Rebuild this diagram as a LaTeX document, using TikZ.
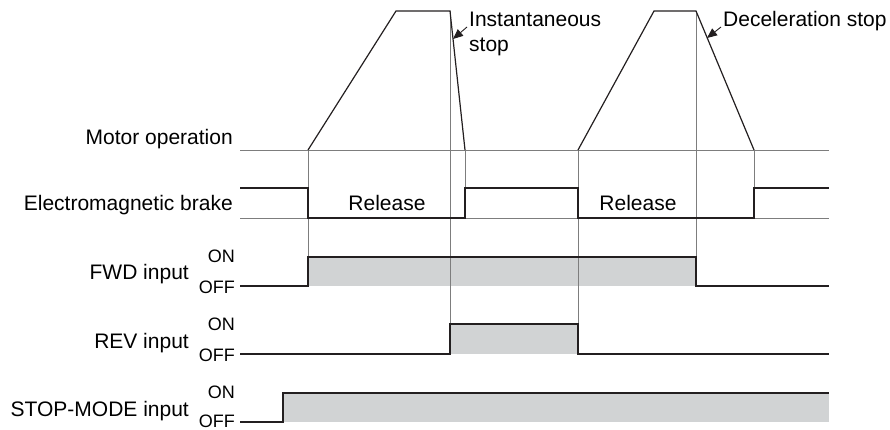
\documentclass[tikz,border=0pt]{standalone}
\usepackage{fontspec}
\setmainfont{Liberation Sans}
\usetikzlibrary{arrows.meta, positioning}
\definecolor{signal}{RGB}{35,31,32}
\definecolor{guide}{RGB}{125,125,125}
\definecolor{onfill}{RGB}{209,211,212}
\tikzset{
  wave/.style={draw=signal, line width=1.2pt, line join=miter},
  guide line/.style={draw=guide, line width=0.9pt},
  on band/.style={fill=onfill, draw=none},
  row label/.style={anchor=base east, inner sep=0pt, font=\fontsize{21}{25}\selectfont},
  level label/.style={anchor=base east, inner sep=0pt, font=\fontsize{18}{21}\selectfont},
  note/.style={inner sep=0pt, align=left, font=\fontsize{21}{25}\selectfont},
  pointer/.style={draw=signal, line width=0.9pt, -{Triangle[length=10pt,width=8.5pt]}},
}

\begin{document}
\begin{tikzpicture}[x=1pt, y=-1pt]
  \useasboundingbox (0,0) rectangle (890,430);

  % ON bands
  \fill[on band] (308,257) rectangle (696,286);
  \fill[on band] (450,324) rectangle (578,354);
  \fill[on band] (283,393) rectangle (829,422);

  % guide lines
  \foreach \ya in {150,218}
    \draw[guide line] (240,\ya) -- (829,\ya);
  \draw[guide line] (308,150) -- (308,286);
  \draw[guide line] (450,11) -- (450,354);
  \draw[guide line] (465,150) -- (465,218);
  \draw[guide line] (578,150) -- (578,354);
  \draw[guide line] (696,11) -- (696,286);
  \draw[guide line] (754,150) -- (754,218);

  % motor speed
  \draw[wave] (308,150) -- (396,11) -- (450,11) -- (465,150);
  \draw[wave] (578,150) -- (654,11) -- (696,11) -- (754,150);

  % brake
  \draw[wave] (240,188) -- (308,188) -- (308,218) -- (465,218) -- (465,188)
    -- (578,188) -- (578,218) -- (754,218) -- (754,188) -- (829,188);

  % inputs
  \draw[wave] (240,286) -- (308,286) -- (308,257) -- (696,257) -- (696,286) -- (829,286);
  \draw[wave] (240,354) -- (450,354) -- (450,324) -- (578,324) -- (578,354) -- (829,354);
  \draw[wave] (240,422) -- (283,422) -- (283,393) -- (829,393);

  % row labels
  \node[row label] (motor) at (233,145) {Motor operation};
  \node[row label] (brake) at (233,211) {Electromagnetic brake};
  \node[row label] (fwd) at (189,279) {FWD input};
  \node[row label] (rev) at (189,348) {REV input};
  \node[row label] (stopmode) at (189,416) {STOP-MODE input};
  \node[level label] (fwdOn) at (235,262) {ON};
  \node[level label] (fwdOff) at (235,293) {OFF};
  \node[level label] (revOn) at (235,330) {ON};
  \node[level label] (revOff) at (235,361) {OFF};
  \node[level label] (stopOn) at (235,398) {ON};
  \node[level label] (stopOff) at (235,427.5) {OFF};

  \node[note, anchor=base] (rel1) at (387,211) {Release};
  \node[note, anchor=base] (rel2) at (638,211) {Release};

  % stop notes
  \node[note, anchor=north west] (inst) at (469,12) {Instantaneous\\stop};
  \node[note, anchor=base west] (decel) at (723,27) {Deceleration stop};
  \coordinate (instTail) at (467,27);
  \coordinate (instTip) at (453,39);
  \coordinate (decelTail) at (721,27);
  \coordinate (decelTip) at (707,38);
  \draw[pointer] (instTail) -- (instTip);
  \draw[pointer] (decelTail) -- (decelTip);
\end{tikzpicture}
\end{document}
